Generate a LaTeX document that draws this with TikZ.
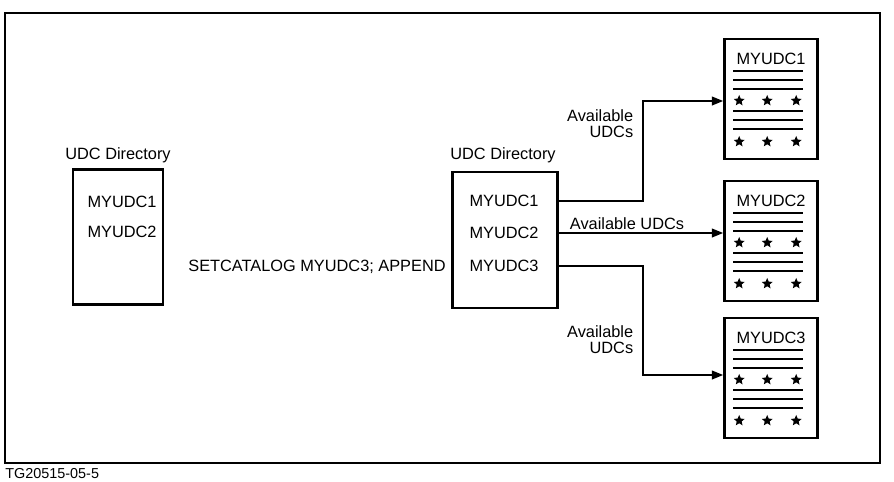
\documentclass[tikz,border=0pt]{standalone}
\usepackage{fontspec}
\setmainfont{Liberation Sans}
\usetikzlibrary{positioning, arrows.meta, shapes.geometric, calc}

\begin{document}
\begin{tikzpicture}[x=0.02cm, y=-0.02cm]
	
	% 定义样式
	\tikzset{
		dirbox/.style = {
			draw, line width=1.5pt,
			minimum width=2.1cm, minimum height=2.72cm
		},
		docbox/.style = {
			draw, line width=1.5pt,
			minimum width=1.86cm, minimum height=2.4cm
		},
		entry/.style = {inner sep=0pt},
		rule/.style = {line width=1.1pt},
		dot/.style = {
			star, star points=5, star point ratio=2.2,
			fill, inner sep=0pt, minimum size=6.5pt
		},
		flow/.style = {
			line width=1pt,
			-{Triangle[length=6.5pt, width=5pt]}
		}
	}
	\fontsize{9.3}{9}\selectfont
	
	% 边框
	\useasboundingbox (0,0) rectangle (894,481);
	\draw[line width=1.1pt] (5,13) rectangle (880,463);
	\node[anchor=west, inner sep=0pt, font=\fontsize{8.2}{9}\selectfont] (tag) at (5,474) {TG20515-05-5};
	
	% 左侧目录
	\node[dirbox, minimum width=1.8cm, minimum height=2.7cm] (olddir) at (118,237) {};
	\node (oldtitle) at (118,155) {UDC Directory};
	\node[entry] (o1) at (122,202) {MYUDC1};
	\node[entry] (o2) at (122,232) {MYUDC2};
	
	% 命令
	\node (cmd) at (317,267) {SETCATALOG MYUDC3; APPEND};
	
	% 中间目录
	\node[dirbox] (newdir) at (505,240) {};
	\node (newtitle) at (503,155) {UDC Directory};
	\node[entry] (m1) at (504,201) {MYUDC1};
	\node[entry] (m2) at (504,233) {MYUDC2};
	\node[entry] (m3) at (504,266) {MYUDC3};
	
	% 右侧文档
	\foreach \i/\yy in {1/99, 2/241, 3/378} {
		\node[docbox] (doc\i) at (771,\yy) {};
		\node[entry] (t\i) at ($(doc\i.north)+(0,21)$) {MYUDC\i};
		\foreach \r in {33,42,51,73,82,91}
			\draw[rule] ($(doc\i.north west)+(10,\r)$) -- ++(70,0);
		\foreach \r in {63,104}
			\foreach \c in {16,44,73}
				\node[dot] (s\i-\r-\c) at ($(doc\i.north west)+(\c,\r)$) {};
	}
	
	% 连线
	\coordinate (kneeA) at (643,101);
	\coordinate (kneeC) at (643,375);
	\draw[flow] (newdir.east |- m1) -| (kneeA) -- (doc1.west |- kneeA);
	\draw[flow] (newdir.east |- m2) -- (doc2.west |- m2);
	\draw[flow] (newdir.east |- m3) -| (kneeC) -- (doc3.west |- kneeC);
	
	\node[align=right, anchor=east] (lblA) at (639,124) {Available\\UDCs};
	\node (lblB) at (627,224) {Available UDCs};
	\node[align=right, anchor=east] (lblC) at (639,340) {Available\\UDCs};
	
\end{tikzpicture}
\end{document}
